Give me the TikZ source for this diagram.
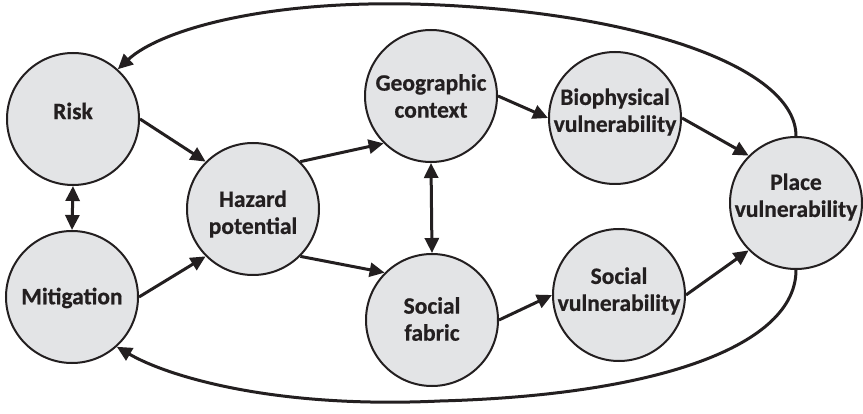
\documentclass[tikz,border=0pt]{standalone}
\usepackage{fontspec}
\setmainfont{Carlito}[BoldFeatures={FakeBold=0.6}]
\usetikzlibrary{arrows.meta}
\definecolor{nodefill}{RGB}{227,228,230}
\definecolor{ink}{RGB}{35,31,32}
\tikzset{
  circ/.style={circle, draw=ink, line width=2pt, fill=nodefill, minimum size=132pt, inner sep=0pt},
  lbl/.style={align=center, text=ink, inner sep=0pt, font=\bfseries\fontsize{23.5}{27}\selectfont},
  conn/.style={draw=ink, line width=3pt, -{Triangle[length=15pt,width=14pt]}},
  biconn/.style={draw=ink, line width=3pt, {Triangle[length=15pt,width=14pt]}-{Triangle[length=15pt,width=14pt]}},
  loop/.style={draw=ink, line width=3pt, -{Triangle[length=15pt,width=14pt]}}
}
\begin{document}
\begin{tikzpicture}[x=1pt,y=-1pt]
\useasboundingbox (0,0) rectangle (863,414);
\node[circ, label={[lbl, yshift=8pt]center:Risk}] (risk) at (73,119) {};
\node[circ, label={[lbl, yshift=-1pt]center:Mitigation}] (mit) at (72,297) {};
\node[circ, label={[lbl, yshift=-5pt]center:Hazard\\potential}] (haz) at (253,209) {};
\node[circ, label={[lbl]center:Geographic\\context}] (geo) at (431,96) {};
\node[circ, label={[lbl, yshift=1pt]center:Social\\fabric}] (fab) at (432,320) {};
\node[circ, label={[lbl, yshift=6pt]center:Biophysical\\vulnerability}] (bio) at (615,118) {};
\node[circ, label={[lbl, yshift=4pt]center:Social\\vulnerability}] (svul) at (619,295) {};
\node[circ, label={[lbl, yshift=6pt]center:Place\\vulnerability}] (place) at (796,203) {};
\coordinate (toppeak) at (440,5);
\coordinate (botpeak) at (440,401);

\draw[conn] (risk.east) -- (haz.135);
\draw[conn] (mit.east) -- (haz.225);
\draw[biconn] (risk.south) -- (mit.north);
\draw[conn] (haz.45) -- (geo.225);
\draw[conn] (haz.315) -- (fab.135);
\draw[biconn] (geo.south) -- (fab.north);
\draw[conn] (geo.east) -- (bio.west);
\draw[conn] (fab.east) -- (svul.west);
\draw[conn] (bio.east) -- (place.135);
\draw[conn] (svul.east) -- (place.225);

\draw[loop] (place.north) .. controls (796,70) and (650,15) .. (toppeak)
  .. controls (270,-3) and (160,30) .. (risk.48);
\draw[loop] (place.south) .. controls (796,345) and (660,395) .. (botpeak)
  .. controls (270,409) and (165,375) .. (mit.-48);
\end{tikzpicture}
\end{document}
